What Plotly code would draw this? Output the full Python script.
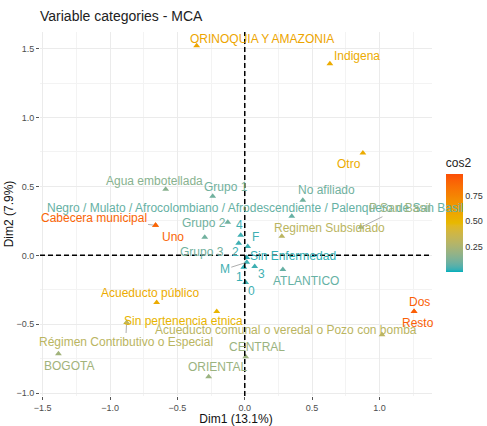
import plotly.graph_objects as go

# MCA variable categories: coordinates on Dim1/Dim2 and quality of representation (cos2)
categories = [
    "ORINOQUIA Y AMAZONIA", "Indigena", "Otro", "No afiliado",
    "Negro / Mulato / Afrocolombiano / Afrodescendiente / Palenquero de San Basil",
    "Regimen Subsidiado", "P San Basil", "Agua embotellada", "Grupo 1",
    "Cabecera municipal", "Uno", "Grupo 2", "Grupo 3", "4", "2", "F",
    "Sin Enfermedad", "M", "1", "3", "0", "ATLANTICO", "Acueducto público",
    "Sin pertenencia etnica", "Régimen Contributivo o Especial", "BOGOTA",
    "ORIENTAL", "CENTRAL", "Acueducto comunal o veredal o Pozo con bomba",
    "Dos", "Resto",
]
dim1 = [
    -0.357, 0.632, 0.877, 0.431,
    0.349,
    0.275, 0.862, -0.587, -0.238,
    -0.662, -0.662, -0.126, -0.297, -0.030, -0.045, 0.022,
    0.015, 0.015, -0.007, 0.074, 0.007, 0.283, -0.654,
    -0.208, -0.877, -1.383,
    -0.268, 0.007, 1.019,
    1.257, 1.257,
]
dim2 = [
    1.52, 1.389, 0.742, 0.40,
    0.284,
    0.138, 0.204, 0.48, 0.429,
    0.218, 0.218, 0.24, 0.131, 0.145, 0.087, 0.065,
    -0.015, -0.05, -0.087, -0.08, -0.196, -0.102, -0.342,
    -0.407, -0.487, -0.713,
    -0.88, -0.735, -0.575,
    -0.407, -0.407,
]
cos2 = [
    0.58, 0.55, 0.55, 0.10,
    0.08,
    0.30, 0.20, 0.15, 0.10,
    0.88, 0.88, 0.10, 0.10, 0.03, 0.03, 0.03,
    0.02, 0.03, 0.02, 0.03, 0.03, 0.08, 0.55,
    0.50, 0.30, 0.22,
    0.20, 0.20, 0.30,
    0.90, 0.90,
]

# Label placement (pixel offsets from each point, repel-style); True = leader line
label_offsets = [
    (65, 7, False), (27, 8, False), (-14, -11, False), (24, 10, False),
    (-247, 8, "left"),
    (48, 8, False), (39, -19, True), (-11, 8, False), (13, 9, False),
    (-62, -7, True), (17, -12, False), (-24, -1, False), (-3, -15, False),
    (-1, 10, False), (-3, -9, False), (8, 9, False),
    (46, 1, False), (-22, 7, True), (-4, -10, False), (7, -8, False),
    (6, -9, False), (23, -12, False), (-7, 10, False),
    (-33, -10, False), (-1, 19, True), (11, -12, False),
    (9, 10, False), (11, 10, False), (-96, 5, False),
    (5, 9, False), (4, -12, False),
]

CMIN, CMAX = 0.0, 0.96
GRADIENT = ["#00AFBB", "#E7B800", "#FC4E07"]


# --- gradient interpolated in CIE Lab space (as ggplot's gradientn does) ---
def _hex_to_rgb(h):
    h = h.lstrip("#")
    return [int(h[i:i + 2], 16) / 255 for i in (0, 2, 4)]


def _lin(c):
    return c / 12.92 if c <= 0.04045 else ((c + 0.055) / 1.055) ** 2.4


def _delin(c):
    c = max(0.0, min(1.0, c))
    return 12.92 * c if c <= 0.0031308 else 1.055 * c ** (1 / 2.4) - 0.055


_WHITE = (0.95047, 1.0, 1.08883)


def _rgb_to_lab(rgb):
    r, g, b = [_lin(c) for c in rgb]
    x = 0.4124 * r + 0.3576 * g + 0.1805 * b
    y = 0.2126 * r + 0.7152 * g + 0.0722 * b
    z = 0.0193 * r + 0.1192 * g + 0.9505 * b

    def f(t):
        return t ** (1 / 3) if t > 0.008856 else 7.787 * t + 16 / 116

    fx, fy, fz = f(x / _WHITE[0]), f(y / _WHITE[1]), f(z / _WHITE[2])
    return (116 * fy - 16, 500 * (fx - fy), 200 * (fy - fz))


def _lab_to_rgb(lab):
    L, a, b = lab
    fy = (L + 16) / 116
    fx = fy + a / 500
    fz = fy - b / 200

    def finv(t):
        return t ** 3 if t ** 3 > 0.008856 else (t - 16 / 116) / 7.787

    x, y, z = finv(fx) * _WHITE[0], finv(fy) * _WHITE[1], finv(fz) * _WHITE[2]
    r = 3.2406 * x - 1.5372 * y - 0.4986 * z
    g = -0.9689 * x + 1.8758 * y + 0.0415 * z
    bb = 0.0557 * x - 0.2040 * y + 1.0570 * z
    return [_delin(c) for c in (r, g, bb)]


_LABS = [_rgb_to_lab(_hex_to_rgb(c)) for c in GRADIENT]


def gradient_color(t):
    t = max(0.0, min(1.0, t))
    seg = min(int(t * 2), 1)
    u = t * 2 - seg
    a, b = _LABS[seg], _LABS[seg + 1]
    lab = [a[i] + (b[i] - a[i]) * u for i in range(3)]
    r, g, bl = _lab_to_rgb(lab)
    return "rgb(%d,%d,%d)" % (round(r * 255), round(g * 255), round(bl * 255))


colorscale = [[i / 40, gradient_color(i / 40)] for i in range(41)]
point_colors = [gradient_color((c - CMIN) / (CMAX - CMIN)) for c in cos2]

FONT = "Liberation Sans, Arial, sans-serif"

fig = go.Figure()
fig.add_trace(go.Scatter(
    x=dim1, y=dim2, mode="markers",
    text=categories,
    marker=dict(
        symbol="triangle-up", size=6, color=cos2,
        colorscale=colorscale, cmin=CMIN, cmax=CMAX,
        colorbar=dict(
            title=dict(text="cos2", side="top", font=dict(size=12, color="#222")),
            tickvals=[0.25, 0.5, 0.75], ticktext=["0.25", "0.50", "0.75"],
            tickfont=dict(size=9, color="#333"),
            thickness=17, len=117, lenmode="pixels",
            x=1.035, xanchor="left", xpad=0,
            y=(396 - 155) / 364, yanchor="top", ypad=0,
            outlinewidth=0, ticks="", ticklen=2,
        ),
        line=dict(width=0),
    ),
    hoverinfo="text", showlegend=False,
))

annotations = []
for name, x, y, col, (dx, dy, mode) in zip(categories, dim1, dim2, point_colors, label_offsets):
    font = dict(size=12, color=col, family=FONT)
    if mode is True:
        annotations.append(dict(
            x=x, y=y, xref="x", yref="y", text=name, showarrow=True,
            ax=dx, ay=dy, arrowhead=0, arrowwidth=0.8, arrowcolor="#999999",
            standoff=2, font=font,
        ))
    elif mode == "left":
        annotations.append(dict(
            x=x, y=y, xref="x", yref="y", text=name, showarrow=False,
            xshift=dx, yshift=dy, xanchor="left", font=font,
        ))
    else:
        annotations.append(dict(
            x=x, y=y, xref="x", yref="y", text=name, showarrow=False,
            xshift=dx, yshift=dy, font=font,
        ))

# Dashed reference lines through the origin
fig.add_shape(type="line", xref="x", yref="paper", x0=0, x1=0, y0=0, y1=1,
              line=dict(color="black", width=1.5, dash="5px,3px"), layer="above")
fig.add_shape(type="line", xref="paper", yref="y", x0=0, x1=1, y0=0, y1=0,
              line=dict(color="black", width=1.5, dash="5px,3px"), layer="above")

axis_common = dict(
    showgrid=True, gridcolor="#EBEBEB", gridwidth=1,
    zeroline=False, showline=False, automargin=False,
    ticks="outside", ticklen=3, tickcolor="#555555",
    tickfont=dict(size=9, color="#4D4D4D", family=FONT),
    tickformat=".1f",
    minor=dict(dtick=0.25, showgrid=True, gridcolor="#F3F3F3", gridwidth=0.6),
)

fig.update_layout(
    width=487, height=426,
    margin=dict(l=40, r=55, t=32, b=30, autoexpand=False),
    paper_bgcolor="white", plot_bgcolor="white",
    font=dict(family=FONT),
    title=dict(text="Variable categories - MCA", x=40 / 487, xanchor="left",
               y=1 - 16 / 426, yanchor="middle",
               font=dict(size=14, color="#222222", family=FONT)),
    xaxis=dict(range=[-1.52, 1.39], dtick=0.5, tick0=0,
               title=dict(text="Dim1 (13.1%)", standoff=3,
                          font=dict(size=12, color="#111", family=FONT)),
               **axis_common),
    yaxis=dict(range=[-1.02, 1.62], dtick=0.5, tick0=0,
               title=dict(text="Dim2 (7.9%)", standoff=0,
                          font=dict(size=12, color="#111", family=FONT)),
               **axis_common),
    annotations=annotations,
)

fig.write_html("out.html")
